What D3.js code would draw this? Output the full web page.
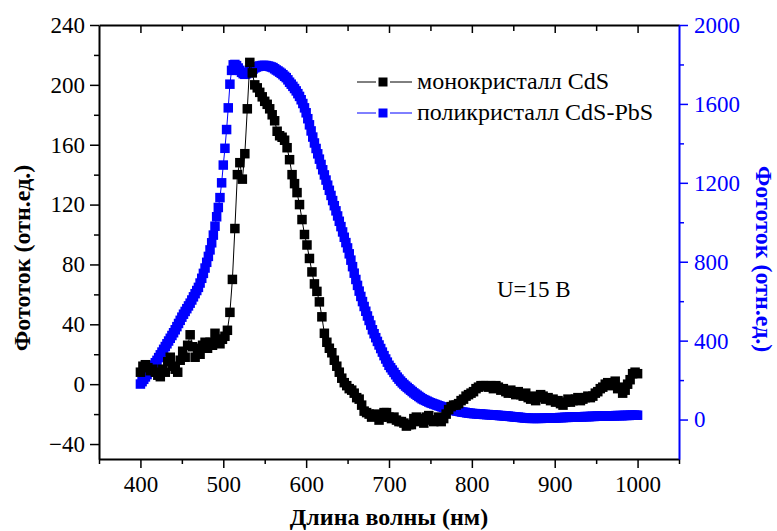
<!DOCTYPE html>
<html>
<head>
<meta charset="utf-8">
<script src="https://cdn.jsdelivr.net/npm/d3@7"></script>
<style>
  body { margin: 0; background: #fff; }
  svg { display: block; font-family: "Liberation Serif", "Times New Roman", "DejaVu Serif", serif; }
</style>
</head>
<body>
<div id="chart"></div>
<script>
'use strict';

// both series start at 400 nm; CdS sampled every 3 nm, CdS-PbS every 2 nm
var wlStart = 400, monoStep = 3, polyStep = 2;

// монокристалл CdS (left axis), rows of 30 nm
var monoCdS = [
  8, 12, 13, 11, 9, 10, 8, 6, 5, 10,
  8, 15, 18, 12, 10, 8, 16, 22, 18, 26,
  33, 25, 18, 24, 20, 26, 28, 24, 28, 26,
  34, 30, 27, 30, 32, 36, 48, 70, 104, 140,
  148, 137, 154, 184, 215, 208, 200, 198, 195, 192,
  189, 187, 184, 180, 176, 169, 166, 165, 163, 158,
  150, 140, 134, 128, 120, 110, 100, 93, 84, 75,
  67, 62, 55, 45, 34, 28, 24, 21, 16, 12,
  8, 4, 1, -1, -3, -4, -6, -9, -10, -14,
  -18, -19, -20, -22, -21, -20, -24, -22, -19, -19,
  -22, -23, -22, -24, -25, -25, -26, -28, -27, -27,
  -23, -22, -25, -23, -26, -22, -21, -24, -25, -24,
  -22, -25, -23, -20, -17, -15, -14, -14, -13, -11,
  -10, -8, -7, -6, -5, -3, -2, -1, -1, -1,
  -2, -1, -3, -1, -2, -4, -3, -5, -6, -4,
  -6, -7, -5, -7, -8, -6, -9, -10, -8, -11,
  -9, -7, -8, -10, -9, -11, -10, -12, -11, -13,
  -14, -12, -10, -12, -11, -10, -9, -11, -10, -9,
  -8, -9, -8, -6, -5, -3, -2, 0, 1, -1,
  0, 2, -3, -2, -6, -4, 0, 3, 7, 8,
  7
];

// поликристалл CdS-PbS (right axis), rows of 20 nm
var polyCdSPbS = [
  180, 192, 204, 216, 228, 240, 252, 264, 276, 288,
  300, 314, 328, 342, 356, 370, 384, 398, 412, 426,
  440, 455, 471, 487, 503, 519, 534, 548, 562, 576,
  590, 606, 622, 638, 654, 670, 692, 716, 741, 768,
  797, 827, 860, 896, 935, 980, 1028, 1075, 1125, 1200,
  1290, 1375, 1470, 1580, 1700, 1770, 1798, 1800, 1794, 1782,
  1770, 1760, 1753, 1750, 1753, 1758, 1764, 1771, 1777, 1783,
  1787, 1790, 1792, 1794, 1795, 1795, 1794, 1792, 1790, 1787,
  1784, 1778, 1772, 1767, 1761, 1755, 1748, 1740, 1733, 1722,
  1710, 1700, 1689, 1678, 1666, 1652, 1638, 1621, 1602, 1580,
  1555, 1525, 1494, 1463, 1432, 1402, 1374, 1347, 1320, 1293,
  1266, 1240, 1214, 1188, 1162, 1136, 1110, 1084, 1058, 1032,
  1005, 978, 951, 924, 897, 870, 840, 808, 775, 742,
  710, 680, 651, 624, 598, 573, 549, 525, 502, 479,
  455, 435, 415, 396, 378, 360, 342, 324, 307, 291,
  275, 263, 251, 239, 227, 215, 205, 195, 186, 178,
  170, 163, 156, 149, 142, 135, 129, 123, 117, 111,
  105, 101, 97, 93, 89, 85, 82, 79, 76, 73,
  70, 67, 64, 62, 59, 56, 54, 51, 49, 47,
  45, 43, 42, 40, 38, 37, 36, 34, 33, 32,
  31, 30, 30, 29, 28, 28, 27, 26, 26, 25,
  25, 24, 24, 23, 22, 22, 21, 20, 20, 19,
  18, 18, 17, 16, 15, 14, 13, 12, 12, 11,
  10, 9, 8, 8, 7, 6, 6, 6, 6, 6,
  6, 6, 6, 7, 7, 7, 7, 8, 8, 8,
  8, 9, 9, 10, 10, 10, 11, 11, 11, 12,
  12, 12, 13, 13, 13, 14, 14, 14, 15, 15,
  15, 15, 16, 16, 16, 17, 17, 17, 18, 18,
  18, 18, 18, 19, 19, 19, 19, 20, 20, 20,
  20, 20, 21, 21, 21, 21, 22, 22, 22, 22,
  22
];

var xTicks = [400, 500, 600, 700, 800, 900, 1000];
var xMinor = [350, 450, 550, 650, 750, 850, 950, 1050];
var yLeftTicks = [-40, 0, 40, 80, 120, 160, 200, 240];
var yLeftMinor = [-20, 20, 60, 100, 140, 180, 220];
var yRightTicks = [0, 400, 800, 1200, 1600, 2000];
var yRightMinor = [200, 600, 1000, 1400, 1800];
var seriesNames = ["монокристалл CdS", "поликристалл CdS-PbS"];
var seriesColors = ["#000000", "#0000ff"];

var width = 777, height = 531;
var pL = 99, pR = 679, pT = 25, pB = 459;
var blue = "#0000ff";
var serif = "\"Liberation Serif\", \"Times New Roman\", \"DejaVu Serif\", serif";

var x = d3.scaleLinear().domain([350, 1050]).range([pL, pR]);
var yL = d3.scaleLinear().domain([-50, 240]).range([pB, pT]);
var yR = d3.scaleLinear().domain([-200, 2000]).range([pB, pT]);

var toPoints = function(arr, step) {
  return arr.map(function(v, i) { return { wl: wlStart + i * step, v: v }; });
};
var mono = toPoints(monoCdS, monoStep);
var poly = toPoints(polyCdSPbS, polyStep);

var svg = d3.select("#chart").append("svg")
    .attr("width", width)
    .attr("height", height);

var ms = 9.5; // marker size

// --- poly series (right axis), drawn first so the black sits on top
svg.append("path")
    .datum(poly)
    .attr("fill", "none")
    .attr("stroke", blue)
    .attr("stroke-width", 1)
    .attr("d", d3.line().x(d => x(d.wl)).y(d => yR(d.v)));

svg.append("g")
  .selectAll("rect")
  .data(poly)
  .join("rect")
    .attr("x", d => x(d.wl) - ms / 2)
    .attr("y", d => yR(d.v) - ms / 2)
    .attr("width", ms)
    .attr("height", ms)
    .attr("fill", blue);

// --- mono series (left axis)
svg.append("path")
    .datum(mono)
    .attr("fill", "none")
    .attr("stroke", "#000")
    .attr("stroke-width", 1)
    .attr("d", d3.line().x(d => x(d.wl)).y(d => yL(d.v)));

svg.append("g")
  .selectAll("rect")
  .data(mono)
  .join("rect")
    .attr("x", d => x(d.wl) - ms / 2)
    .attr("y", d => yL(d.v) - ms / 2)
    .attr("width", ms)
    .attr("height", ms)
    .attr("fill", "#000");

// --- axes
var styleAxis = function(g, color) {
  g.attr("font-family", serif).attr("font-size", 23);
  g.selectAll(".domain").attr("stroke", color).attr("stroke-width", 2);
  g.selectAll(".tick line").attr("stroke", color).attr("stroke-width", 1.5);
  g.selectAll(".tick text").attr("fill", color);
};
var fmt = d3.format("d");

// bottom
svg.append("g")
    .attr("transform", "translate(0," + pB + ")")
    .call(d3.axisBottom(x).tickValues(xMinor).tickSize(5).tickSizeOuter(0).tickFormat(""))
    .call(g => g.select(".domain").remove())
    .call(g => styleAxis(g, "#000"));
svg.append("g")
    .attr("transform", "translate(0," + pB + ")")
    .call(d3.axisBottom(x).tickValues(xTicks).tickFormat(fmt).tickSize(9).tickSizeOuter(0).tickPadding(8))
    .call(g => styleAxis(g, "#000"));

// top (ticks pointing inside, no labels)
svg.append("g")
    .attr("transform", "translate(0," + pT + ")")
    .call(d3.axisBottom(x).tickValues(xMinor.slice(1, -1)).tickSize(6).tickSizeOuter(0).tickFormat(""))
    .call(g => g.select(".domain").remove())
    .call(g => styleAxis(g, "#000"));
svg.append("g")
    .attr("transform", "translate(0," + pT + ")")
    .call(d3.axisBottom(x).tickValues(xTicks).tickSize(8).tickSizeOuter(0).tickFormat(""))
    .call(g => styleAxis(g, "#000"));

// left
svg.append("g")
    .attr("transform", "translate(" + pL + ",0)")
    .call(d3.axisLeft(yL).tickValues(yLeftMinor).tickSize(5).tickSizeOuter(0).tickFormat(""))
    .call(g => g.select(".domain").remove())
    .call(g => styleAxis(g, "#000"));
svg.append("g")
    .attr("transform", "translate(" + pL + ",0)")
    .call(d3.axisLeft(yL).tickValues(yLeftTicks).tickFormat(fmt).tickSize(9).tickSizeOuter(0).tickPadding(5))
    .call(g => styleAxis(g, "#000"));

// right (blue)
svg.append("g")
    .attr("transform", "translate(" + pR + ",0)")
    .call(d3.axisRight(yR).tickValues(yRightMinor).tickSize(5).tickSizeOuter(0).tickFormat(""))
    .call(g => g.select(".domain").remove())
    .call(g => styleAxis(g, blue));
svg.append("g")
    .attr("transform", "translate(" + pR + ",0)")
    .call(d3.axisRight(yR).tickValues(yRightTicks).tickFormat(fmt).tickSize(9).tickSizeOuter(0).tickPadding(6))
    .call(g => styleAxis(g, blue));

// --- axis titles
svg.append("text")
    .attr("x", (pL + pR) / 2)
    .attr("y", 525)
    .attr("text-anchor", "middle")
    .style("font-size", "24px")
    .style("font-weight", "bold")
    .text("Длина волны (нм)");

svg.append("text")
    .attr("transform", "translate(22,258) rotate(-90)")
    .attr("dy", "0.35em")
    .attr("text-anchor", "middle")
    .style("font-size", "24px")
    .style("font-weight", "bold")
    .text("Фототок (отн.ед.)");

svg.append("text")
    .attr("transform", "translate(764,259) rotate(90)")
    .attr("dy", "0.35em")
    .attr("text-anchor", "middle")
    .attr("fill", blue)
    .style("font-size", "24px")
    .style("font-weight", "bold")
    .text("Фототок (отн.ед.)");

// --- legend
var legend = svg.append("g")
  .selectAll("g")
  .data(seriesNames)
  .join("g")
    .attr("transform", (d, i) => "translate(0," + (82 + i * 31) + ")");

legend.append("line")
    .attr("x1", 357).attr("x2", 376).attr("y1", 0).attr("y2", 0)
    .attr("stroke", (d, i) => seriesColors[i]);
legend.append("line")
    .attr("x1", 390).attr("x2", 412).attr("y1", 0).attr("y2", 0)
    .attr("stroke", (d, i) => seriesColors[i]);
legend.append("rect")
    .attr("x", 383 - 4.5).attr("y", -4.5)
    .attr("width", 9).attr("height", 9)
    .attr("fill", (d, i) => seriesColors[i]);
legend.append("text")
    .attr("x", 417)
    .attr("y", 7)
    .style("font-size", "24px")
    .text(d => d);

svg.append("text")
    .attr("x", 497)
    .attr("y", 297)
    .style("font-size", "23px")
    .text("U=15 В");
</script>
</body>
</html>
